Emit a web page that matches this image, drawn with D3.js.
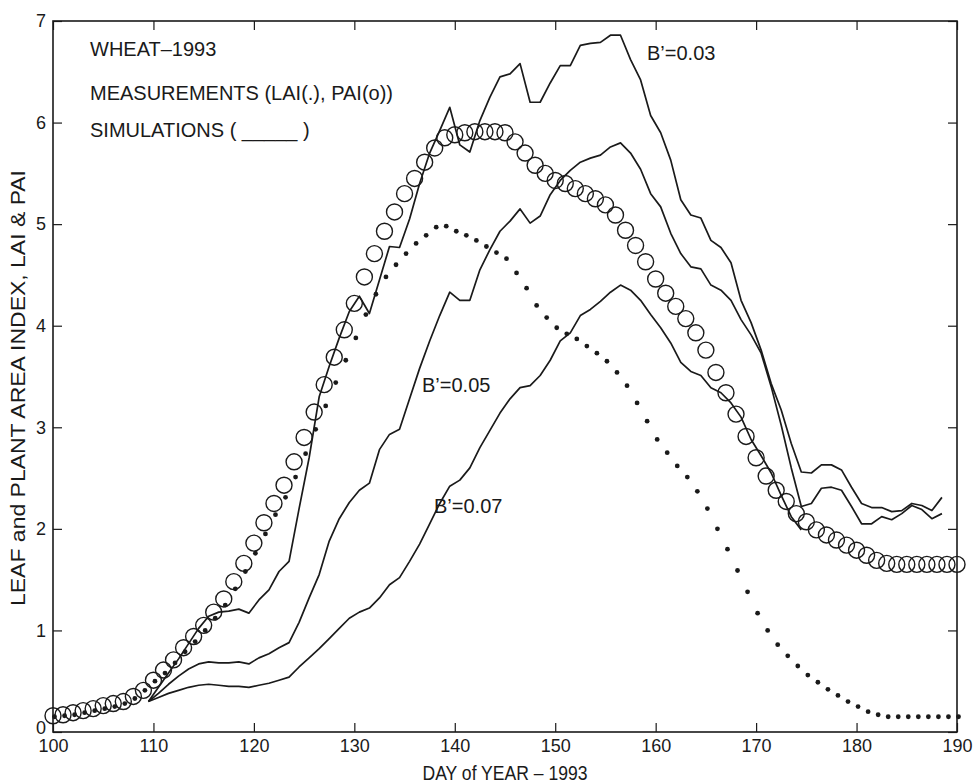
<!DOCTYPE html>
<html>
<head>
<meta charset="utf-8">
<script src="https://cdn.jsdelivr.net/npm/d3@7"></script>
<style>
  body { margin: 0; background: #fff; }
  svg text { font-family: "Liberation Sans", Arial, Helvetica, sans-serif; fill: #1a1a1a; }
</style>
</head>
<body>
<div id="chart"></div>
<script>
// measured days (LAI dots, PAI circles), day 100 .. 190
var measDays = d3.range(100, 191);
var laiValues = [0.15, 0.16, 0.17, 0.19, 0.21, 0.23, 0.25, 0.28, 0.33, 0.41,
    0.50, 0.58, 0.68, 0.79, 0.89, 1.00, 1.12, 1.25, 1.41, 1.58,
    1.76, 1.95, 2.14, 2.31, 2.51, 2.74, 2.98, 3.21, 3.44, 3.66,
    3.88, 4.11, 4.31, 4.48, 4.60, 4.71, 4.81, 4.89, 4.97, 4.98,
    4.93, 4.89, 4.84, 4.78, 4.72, 4.66, 4.52, 4.37, 4.20, 4.08,
    3.98, 3.92, 3.87, 3.80, 3.73, 3.65, 3.54, 3.41, 3.24, 3.06,
    2.88, 2.75, 2.62, 2.51, 2.37, 2.20, 2.00, 1.80, 1.59, 1.38,
    1.17, 1.00, 0.86, 0.75, 0.65, 0.56, 0.49, 0.42, 0.36, 0.30,
    0.25, 0.20, 0.17, 0.15, 0.15, 0.15, 0.15, 0.15, 0.15, 0.15, 0.15];
var paiValues = [0.16, 0.17, 0.19, 0.21, 0.23, 0.26, 0.28, 0.30, 0.35, 0.41,
    0.51, 0.61, 0.71, 0.83, 0.94, 1.05, 1.18, 1.31, 1.48, 1.66,
    1.86, 2.06, 2.25, 2.43, 2.66, 2.90, 3.15, 3.42, 3.69, 3.96,
    4.22, 4.48, 4.71, 4.93, 5.12, 5.30, 5.45, 5.61, 5.75, 5.85,
    5.88, 5.90, 5.91, 5.91, 5.91, 5.90, 5.81, 5.70, 5.58, 5.50,
    5.43, 5.40, 5.35, 5.30, 5.25, 5.19, 5.09, 4.94, 4.79, 4.63,
    4.46, 4.32, 4.19, 4.07, 3.93, 3.76, 3.54, 3.34, 3.13, 2.91,
    2.70, 2.52, 2.38, 2.27, 2.15, 2.07, 1.99, 1.94, 1.89, 1.84,
    1.79, 1.74, 1.69, 1.66, 1.65, 1.65, 1.65, 1.65, 1.65, 1.65, 1.65];

// simulated curves, day 109.5 .. 188.5
var simDays = d3.range(109.5, 189, 1);
var simB003 = [0.30, 0.44, 0.58, 0.72, 0.87, 1.02, 1.14, 1.18, 1.19, 1.21,
    1.17, 1.30, 1.40, 1.58, 1.68, 2.20, 2.70, 3.30, 3.60, 3.88,
    4.14, 4.29, 4.12, 4.45, 4.78, 4.77, 5.05, 5.40, 5.70, 5.92,
    6.15, 5.78, 5.71, 6.02, 6.25, 6.45, 6.48, 6.58, 6.20, 6.20,
    6.39, 6.56, 6.56, 6.76, 6.78, 6.79, 6.86, 6.86, 6.62, 6.42,
    6.07, 5.90, 5.63, 5.24, 5.09, 5.06, 4.84, 4.77, 4.62, 4.25,
    4.03, 3.76, 3.43, 3.17, 2.84, 2.56, 2.55, 2.63, 2.63, 2.58,
    2.41, 2.25, 2.21, 2.21, 2.17, 2.18, 2.25, 2.23, 2.18, 2.31];
var simB005 = [0.30, 0.38, 0.47, 0.55, 0.62, 0.67, 0.69, 0.68, 0.68, 0.69,
    0.67, 0.73, 0.77, 0.83, 0.88, 1.08, 1.32, 1.55, 1.88, 2.10,
    2.26, 2.38, 2.45, 2.78, 2.93, 2.98, 3.28, 3.58, 3.85, 4.10,
    4.33, 4.25, 4.25, 4.55, 4.75, 4.93, 5.03, 5.15, 5.01, 5.08,
    5.29, 5.43, 5.53, 5.61, 5.65, 5.68, 5.76, 5.80, 5.70, 5.54,
    5.30, 5.17, 4.91, 4.71, 4.58, 4.56, 4.40, 4.35, 4.25, 4.06,
    3.91, 3.73, 3.40, 3.02, 2.60, 2.22, 2.25, 2.40, 2.41, 2.38,
    2.22, 2.05, 2.05, 2.12, 2.09, 2.15, 2.23, 2.19, 2.10, 2.15];
var simB007 = [0.30, 0.34, 0.38, 0.41, 0.44, 0.46, 0.47, 0.46, 0.45, 0.45,
    0.44, 0.46, 0.48, 0.51, 0.54, 0.64, 0.73, 0.82, 0.92, 1.02,
    1.12, 1.18, 1.22, 1.32, 1.45, 1.52, 1.68, 1.85, 2.05, 2.25,
    2.42, 2.48, 2.60, 2.80, 2.97, 3.14, 3.28, 3.39, 3.41, 3.51,
    3.66, 3.85, 3.93, 4.10, 4.16, 4.24, 4.33, 4.40, 4.35, 4.25,
    4.11, 3.98, 3.83, 3.64, 3.55, 3.51, 3.39, 3.34, 3.24, 3.10,
    2.88, 2.72, 2.55, 2.33, 2.12, 1.99];

var xTicks = [100, 110, 120, 130, 140, 150, 160, 170, 180, 190];
var yTicks = [0, 1, 2, 3, 4, 5, 6, 7];

var width = 974, height = 783;
var margin = {left: 53, right: 17, top: 21, bottom: 51};

var svg = d3.select("#chart").append("svg")
    .attr("width", width)
    .attr("height", height);

var x = d3.scaleLinear().domain([100, 190]).range([margin.left, width - margin.right]);
var y = d3.scaleLinear().domain([0, 7]).range([height - margin.bottom, margin.top]);

var ink = "#1a1a1a";

// axes with inward ticks on all four sides
var tickLen = 9;
svg.append("g")
    .attr("transform", "translate(0," + y(0) + ")")
    .call(d3.axisBottom(x).tickValues(xTicks).tickFormat(d3.format("d"))
        .tickSizeInner(-tickLen).tickSizeOuter(0).tickPadding(7))
    .call(function(g) { g.select(".domain").remove(); });
svg.append("g")
    .attr("transform", "translate(0," + y(7) + ")")
    .call(d3.axisTop(x).tickValues(xTicks).tickSizeInner(-tickLen).tickSizeOuter(0).tickFormat(""))
    .call(function(g) { g.select(".domain").remove(); });
var yAxisG = svg.append("g")
    .attr("transform", "translate(" + x(100) + ",0)")
    .call(d3.axisLeft(y).tickValues(yTicks).tickFormat(d3.format("d"))
        .tickSizeInner(-tickLen).tickSizeOuter(0).tickPadding(7))
    .call(function(g) { g.select(".domain").remove(); });
svg.append("g")
    .attr("transform", "translate(" + x(190) + ",0)")
    .call(d3.axisRight(y).tickValues(yTicks).tickSizeInner(-tickLen).tickSizeOuter(0).tickFormat(""))
    .call(function(g) { g.select(".domain").remove(); });

svg.selectAll(".tick line").attr("stroke", ink).attr("stroke-width", 1.2);
svg.selectAll(".tick text").style("font-size", "18px").attr("fill", ink);
// the zero label sits a little high so it clears the "100" below it
yAxisG.selectAll(".tick text").filter(function(d) { return d === 0; }).attr("dy", "0.1em");

svg.append("rect")
    .attr("x", x(100)).attr("y", y(7))
    .attr("width", x(190) - x(100)).attr("height", y(0) - y(7))
    .attr("fill", "none").attr("stroke", ink).attr("stroke-width", 1.6);

// simulation lines
var line = d3.line()
    .x(function(d) { return x(d[0]); })
    .y(function(d) { return y(d[1]); });

[simB003, simB005, simB007].forEach(function(vals) {
    svg.append("path")
        .datum(vals.map(function(v, i) { return [simDays[i], v]; }))
        .attr("d", line)
        .attr("fill", "none")
        .attr("stroke", ink)
        .attr("stroke-width", 1.7)
        .attr("stroke-linejoin", "round");
});

// PAI circles
svg.selectAll(".pai")
    .data(paiValues)
    .enter().append("circle")
    .attr("class", "pai")
    .attr("cx", function(d, i) { return x(measDays[i]); })
    .attr("cy", function(d) { return y(d); })
    .attr("r", 8)
    .attr("fill", "none")
    .attr("stroke", ink)
    .attr("stroke-width", 1.4);

// LAI dots
svg.selectAll(".lai")
    .data(laiValues)
    .enter().append("circle")
    .attr("class", "lai")
    .attr("cx", function(d, i) { return x(measDays[i]) + 1.5; })
    .attr("cy", function(d) { return y(d); })
    .attr("r", 2.4)
    .attr("fill", ink);

// annotations
var notes = [
    {t: "WHEAT\u20131993", x: 90, y: 56},
    {t: "MEASUREMENTS (LAI(.), PAI(o))", x: 90, y: 100},
    {t: "SIMULATIONS ( _____ )", x: 90, y: 137},
    {t: "B\u2019=0.03", x: 647, y: 60},
    {t: "B\u2019=0.05", x: 422, y: 392},
    {t: "B\u2019=0.07", x: 434, y: 513}
];
svg.selectAll(".note")
    .data(notes)
    .enter().append("text")
    .attr("class", "note")
    .attr("x", function(d) { return d.x; })
    .attr("y", function(d) { return d.y; })
    .style("font-size", "20px")
    .text(function(d) { return d.t; });

// axis titles
svg.append("text")
    .attr("x", (x(100) + x(190)) / 2)
    .attr("y", 780)
    .attr("text-anchor", "middle")
    .attr("textLength", 165)
    .attr("lengthAdjust", "spacingAndGlyphs")
    .style("font-size", "20px")
    .text("DAY of YEAR \u2013 1993");

svg.append("text")
    .attr("transform", "translate(25," + 388 + ") rotate(-90)")
    .attr("text-anchor", "middle")
    .attr("textLength", 436)
    .attr("lengthAdjust", "spacingAndGlyphs")
    .style("font-size", "20px")
    .text("LEAF and PLANT AREA INDEX, LAI & PAI");
</script>
</body>
</html>
